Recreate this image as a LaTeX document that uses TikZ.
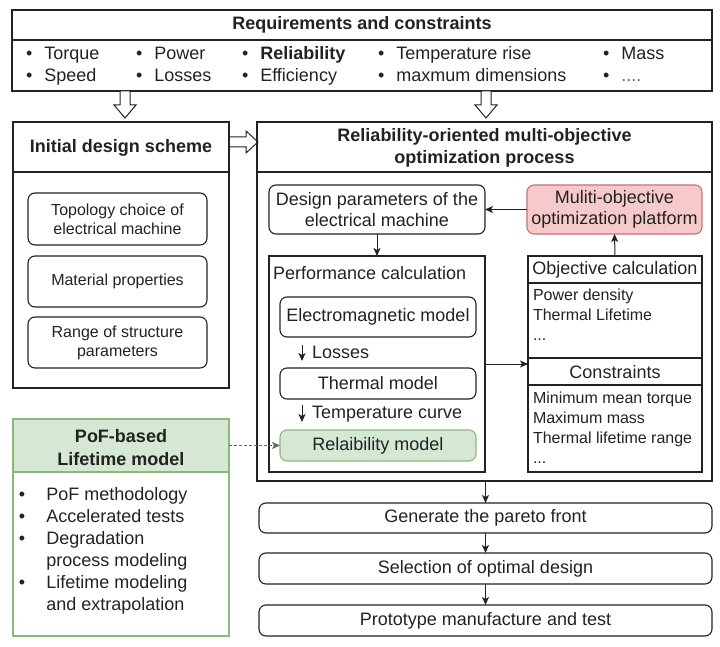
\documentclass[tikz,border=0pt]{standalone}
\usepackage{fontspec}
\setmainfont{Liberation Sans}
\usetikzlibrary{arrows.meta,calc}
\definecolor{gfill}{HTML}{D5E8D4}
\definecolor{gline}{HTML}{8DB87A}
\definecolor{rfill}{HTML}{F6CACA}
\definecolor{rline}{HTML}{C87070}
\definecolor{ink}{HTML}{222222}
\newcommand\fs{\fontsize{18}{20.5}\selectfont}
\newcommand\fsm{\fontsize{16}{19}\selectfont}
\newcommand\bul{\textbullet\hspace{12pt}}
\newcommand\bulp{\textbullet\hspace{21pt}}
\newcommand\nobulp{\hphantom{\textbullet}\hspace{21pt}}
\tikzset{
  frame/.style={draw=ink, line width=1.1pt, inner sep=0pt, outer sep=0pt},
  rbox/.style={frame, rounded corners=7pt, align=center, font=\fs, text=ink},
  sbox/.style={rbox, font=\fsm},
  txt/.style={inner sep=0pt, outer sep=0pt, font=\fs, align=left, text=ink},
  rowtxt/.style={txt, anchor=west, font=\fontsize{18}{22}\selectfont},
  ttl/.style={inner sep=0pt, outer sep=0pt, font=\fs\bfseries, align=center, text=ink},
  arr/.style={draw=ink, line width=1pt, -{Stealth[length=8pt,width=7pt,inset=2pt]}},
  dasharr/.style={arr, densely dashed, draw=ink!70},
  hollow/.style={draw=ink, line width=1pt, fill=white, line join=miter},
  divider/.style={draw=ink, line width=1.1pt}
}
\begin{document}
\begin{tikzpicture}[x=1pt,y=-1pt]
\useasboundingbox (0,0) rectangle (720,647);

% Requirements box
\node[frame, minimum width=700pt, minimum height=81pt] (req) at (362,50.5) {};
\draw[divider] (12,40) -- (712,40);
\node[ttl] (reqt) at (362,25) {Requirements and constraints};
\node[rowtxt] (c1) at (26,66.5) {\strut\bul Torque\\\bul Speed\strut};
\node[rowtxt] (c2) at (136,66.5) {\strut\bul Power\\\bul Losses\strut};
\node[rowtxt] (c3) at (242,66.5) {\strut\bul\textbf{Reliability}\\\bul Efficiency\strut};
\node[rowtxt] (c4) at (378,66.5) {\strut\bul Temperature rise\\\bul maxmum dimensions\strut};
\node[rowtxt] (c5) at (603,66.5) {\strut\bul Mass\\\bul \textcolor{ink!70}{....}\strut};

% hollow arrows
\draw[hollow] (120,91) -- (130,91) -- (130,105) -- (136,105) -- (125,118) -- (114,105) -- (120,105) -- cycle;
\draw[hollow] (481,91) -- (491,91) -- (491,105) -- (497,105) -- (486,118) -- (475,105) -- (481,105) -- cycle;
\draw[hollow] (229,137) -- (246,137) -- (246,131) -- (258,142) -- (246,153) -- (246,147) -- (229,147) -- cycle;

% Initial design scheme
\node[frame, minimum width=216pt, minimum height=266pt] (init) at (121,255) {};
\draw[divider] (13,172) -- (229,172);
\node[ttl] (initt) at (121,148) {Initial design scheme};
\node[sbox, minimum width=179pt, minimum height=52pt] (topo) at (117.5,219) {Topology choice of\\electrical machine};
\node[sbox, minimum width=179pt, minimum height=51pt] (mat) at (117.5,281.5) {Material properties};
\node[sbox, minimum width=179pt, minimum height=51pt] (rng) at (117.5,342.5) {Range of structure\\parameters};

% Reliability-oriented process
\node[frame, minimum width=455pt, minimum height=359pt] (proc) at (484.5,301.5) {};
\draw[divider] (257,172) -- (712,172);
\node[ttl, font=\fontsize{18}{22}\selectfont\bfseries] (proct) at (484.5,148) {Reliability-oriented multi-objective\\optimization process};

\node[rbox, minimum width=216pt, minimum height=49pt] (design) at (377,209.5) {Design parameters of the\\electrical machine};
\node[rbox, minimum width=175pt, minimum height=49pt, fill=rfill, draw=rline] (multi) at (614.5,209.5) {Muliti-objective\\optimization platform};

\node[frame, minimum width=216pt, minimum height=216pt] (perf) at (377,364) {};
\node[txt, anchor=west] (perft) at (273,273) {Performance calculation};
\node[rbox, minimum width=196pt, minimum height=40pt] (em) at (378,317) {Electromagnetic model};
\node[rbox, minimum width=196pt, minimum height=31pt] (th) at (378,383.5) {Thermal model};
\node[rbox, minimum width=196pt, minimum height=31pt, fill=gfill, draw=gline] (relm) at (378,445.5) {Relaibility model};
\coordinate (ax) at (302,0);
\draw[arr, shorten <=8pt, shorten >=7pt] (em.south -| ax) -- (th.north -| ax);
\draw[arr, shorten <=6pt, shorten >=8pt] (th.south -| ax) -- (relm.north -| ax);
\node[txt, anchor=west] (loss) at (312,352) {Losses};
\node[txt, anchor=west] (tc) at (312,414) {Temperature curve};

% Objective / constraints
\node[frame, minimum width=174pt, minimum height=216pt] (obj) at (615,364) {};
\draw[divider] (528,283) -- (702,283);
\draw[divider] (528,358) -- (702,358);
\draw[divider] (528,385) -- (702,385);
\node[txt, align=center] (objt) at (615,270) {Objective calculation};
\node[txt, anchor=north west, font=\fontsize{16}{20}\selectfont] (objl) at (533,289) {Power density\\Thermal Lifetime\\...};
\node[txt, align=center] (cons) at (615,372) {Constraints};
\node[txt, anchor=north west, font=\fontsize{16}{20}\selectfont] (consl) at (533,392) {Minimum mean torque\\Maximum mass\\Thermal lifetime range\\...};

% connectors inside
\draw[arr] (multi.west) -- (design.east);
\draw[arr] (design.south) -- (perf.north);
\draw[arr] (perf.east) -- (obj.west);
\draw[arr] (obj.north) -- (multi.south);

% PoF box
\fill[gfill] (13,419) rectangle (229,472);
\node[draw=gline, line width=1.1pt, inner sep=0pt, outer sep=0pt, minimum width=216pt, minimum height=217pt] (pof) at (121,527.5) {};
\draw[draw=gline, line width=1.1pt] (13,472) -- (229,472);
\node[ttl, font=\fontsize{18}{23}\selectfont\bfseries] (poft) at (121,448) {PoF-based\\Lifetime model};
\node[txt, anchor=north west, font=\fontsize{18}{22}\selectfont] (pofl) at (19,487) {\bulp PoF methodology\\\bulp Accelerated tests\\\bulp Degradation\\\nobulp process modeling\\\bulp Lifetime modeling\\\nobulp and extrapolation};
\draw[dasharr] (relm.west -| pof.east) -- (relm.west);

% bottom chain
\node[rbox, minimum width=453pt, minimum height=30pt] (gen) at (485.5,518) {Generate the pareto front};
\node[rbox, minimum width=453pt, minimum height=31pt] (sel) at (485.5,568.5) {Selection of optimal design};
\node[rbox, minimum width=453pt, minimum height=31pt] (proto) at (485.5,620.5) {Prototype manufacture and test};
\draw[arr] (proc.south -| gen.north) -- (gen.north);
\draw[arr] (gen) -- (sel);
\draw[arr] (sel) -- (proto);
\end{tikzpicture}
\end{document}
